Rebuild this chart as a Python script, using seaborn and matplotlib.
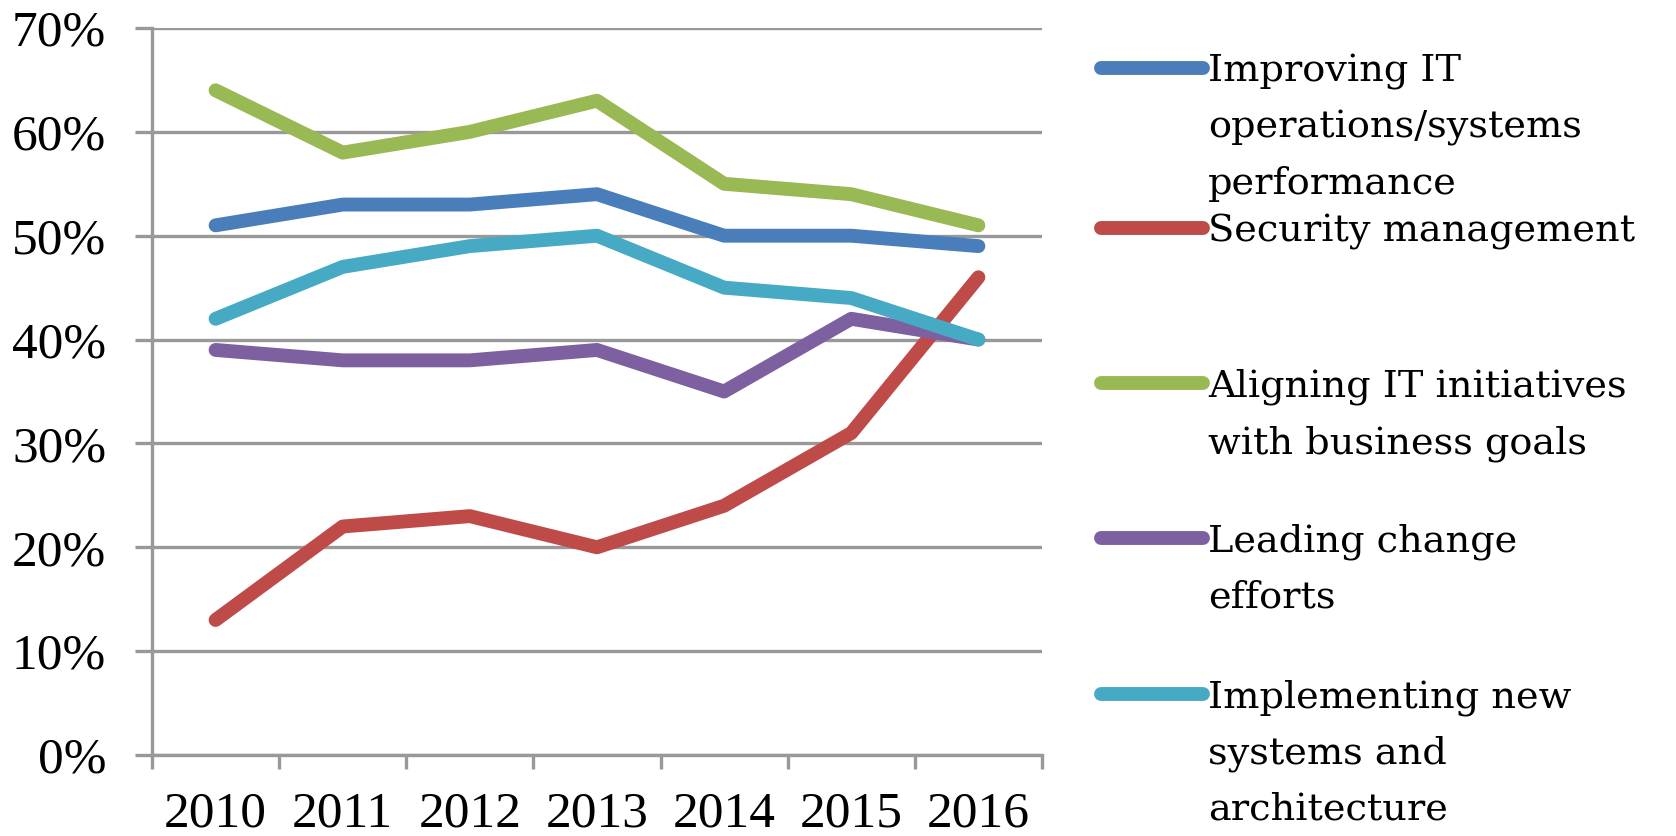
import numpy as np
import pandas as pd
import matplotlib
matplotlib.use("Agg")
import matplotlib.pyplot as plt
from matplotlib.lines import Line2D
import seaborn as sns

# data (percent)
years = ["2010", "2011", "2012", "2013", "2014", "2015", "2016"]
improving_it = [51, 53, 53, 54, 50, 50, 49]
security = [13, 22, 23, 20, 24, 31, 46]
aligning_it = [64, 58, 60, 63, 55, 54, 51]
leading_change = [39, 38, 38, 39, 35, 42, 40]
implementing = [42, 47, 49, 50, 45, 44, 40]

series_names = [
    "Improving IT\noperations/systems\nperformance",
    "Security management",
    "Aligning IT initiatives\nwith business goals",
    "Leading change\nefforts",
    "Implementing new\nsystems and\narchitecture",
]
series_values = [improving_it, security, aligning_it, leading_change, implementing]
colors = ["#4A7EBB", "#BE4B48", "#98B954", "#7D60A0", "#46AAC5"]

rows = []
for name, vals in zip(series_names, series_values):
    for i, v in enumerate(vals):
        rows.append({"pos": i, "year": years[i], "value": v, "series": name})
df = pd.DataFrame(rows)

sns.set_style("white")
plt.rcParams["font.family"] = ["DejaVu Serif"]

fig = plt.figure(figsize=(16.76, 8.36), dpi=100)
ax = fig.add_axes([0.0907, 0.0969, 0.5310, 0.8696])

sns.lineplot(data=df, x="pos", y="value", hue="series", palette=colors,
             hue_order=series_names, linewidth=10, legend=False, ax=ax,
             sort=False)
for ln in ax.get_lines():
    ln.set_solid_joinstyle("round")
    ln.set_solid_capstyle("round")

ax.set_xlim(-0.5, 6.5)
ax.set_ylim(0, 70)
ax.set_yticks(np.arange(0, 71, 10))
ax.set_yticklabels([f"{v}%" for v in range(0, 71, 10)])
ax.set_xticks(range(len(years)))
ax.set_xticklabels(years)
ax.set_xticks(np.arange(-0.5, 7, 1), minor=True)
ax.set_xlabel("")
ax.set_ylabel("")

ax.yaxis.grid(True, color="#999999", linewidth=2.4)
ax.set_axisbelow(True)
for s in ["top", "right"]:
    ax.spines[s].set_visible(False)
for s in ["left", "bottom"]:
    ax.spines[s].set_color("#999999")
    ax.spines[s].set_linewidth(2.4)

ax.tick_params(axis="y", length=12, width=2.4, color="#999999", pad=21,
               labelsize=37, left=True, labelcolor="black")
ax.tick_params(axis="x", which="major", length=0, pad=26, labelsize=37,
               labelcolor="black")
ax.tick_params(axis="x", which="minor", length=10, width=2.4,
               color="#999999", bottom=True)
for lab in ax.get_xticklabels() + ax.get_yticklabels():
    lab.set_fontfamily("Liberation Serif")

# custom legend: handle aligned with first line of each label
fig_h = 836
fig_w = 1676
handle_y = [68, 228, 383, 538, 694]
line_step = 56
for name, col, hy in zip(series_names, colors, handle_y):
    yf = 1 - hy / fig_h
    fig.add_artist(Line2D([1101 / fig_w, 1203 / fig_w], [yf, yf], color=col,
                          linewidth=10, solid_capstyle="round",
                          transform=fig.transFigure))
    for k, part in enumerate(name.split("\n")):
        fig.text(1208 / fig_w, 1 - (hy + 14 + k * line_step) / fig_h, part,
                 fontsize=27.5, va="baseline", ha="left", color="black",
                 family="DejaVu Serif")

fig.savefig("out.png", dpi=100)
